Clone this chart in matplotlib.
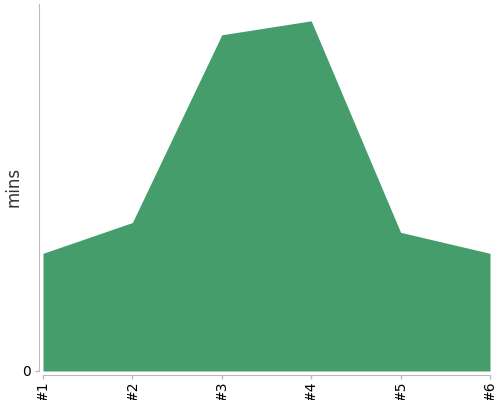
import matplotlib
matplotlib.use("Agg")
import matplotlib.pyplot as plt

GREEN = "#449d6b"
AXIS = "#bbbbbb"
MUTED = "#555555"

labels = ["#1", "#2", "#3", "#4", "#5", "#6"]
minutes = [8.4, 10.6, 24.0, 25.0, 9.9, 8.4]
y_top = 26.2

fig = plt.figure(figsize=(5, 4), dpi=100)
ax = fig.add_axes([43 / 500, 29 / 400, 447 / 500, 367 / 400])

x = list(range(len(labels)))
ax.fill_between(x, minutes, 0, color=GREEN, linewidth=0)

ax.set_xlim(0, len(labels) - 1)
ax.set_ylim(0, y_top)
ax.set_xticks(x)
ax.set_xticklabels(labels, fontsize=6, color="#111111")
ax.set_yticks([0])
ax.set_yticklabels(["0"], fontsize=9, color=MUTED)

for side in ("top", "right"):
    ax.spines[side].set_visible(False)
ax.spines["left"].set_position(("outward", 3))
ax.spines["bottom"].set_position(("outward", 3))
ax.spines["left"].set_color(AXIS)
ax.spines["bottom"].set_color(AXIS)
ax.tick_params(axis="both", color=AXIS, length=3, width=1)
ax.tick_params(axis="x", pad=1, labelrotation=90)
ax.tick_params(axis="y", pad=3)

fig.text(13 / 500, 1 - 187 / 400, "mins", rotation=90, fontsize=12,
         color="#333333", ha="center", va="center")

fig.savefig("out.png", dpi=100)
